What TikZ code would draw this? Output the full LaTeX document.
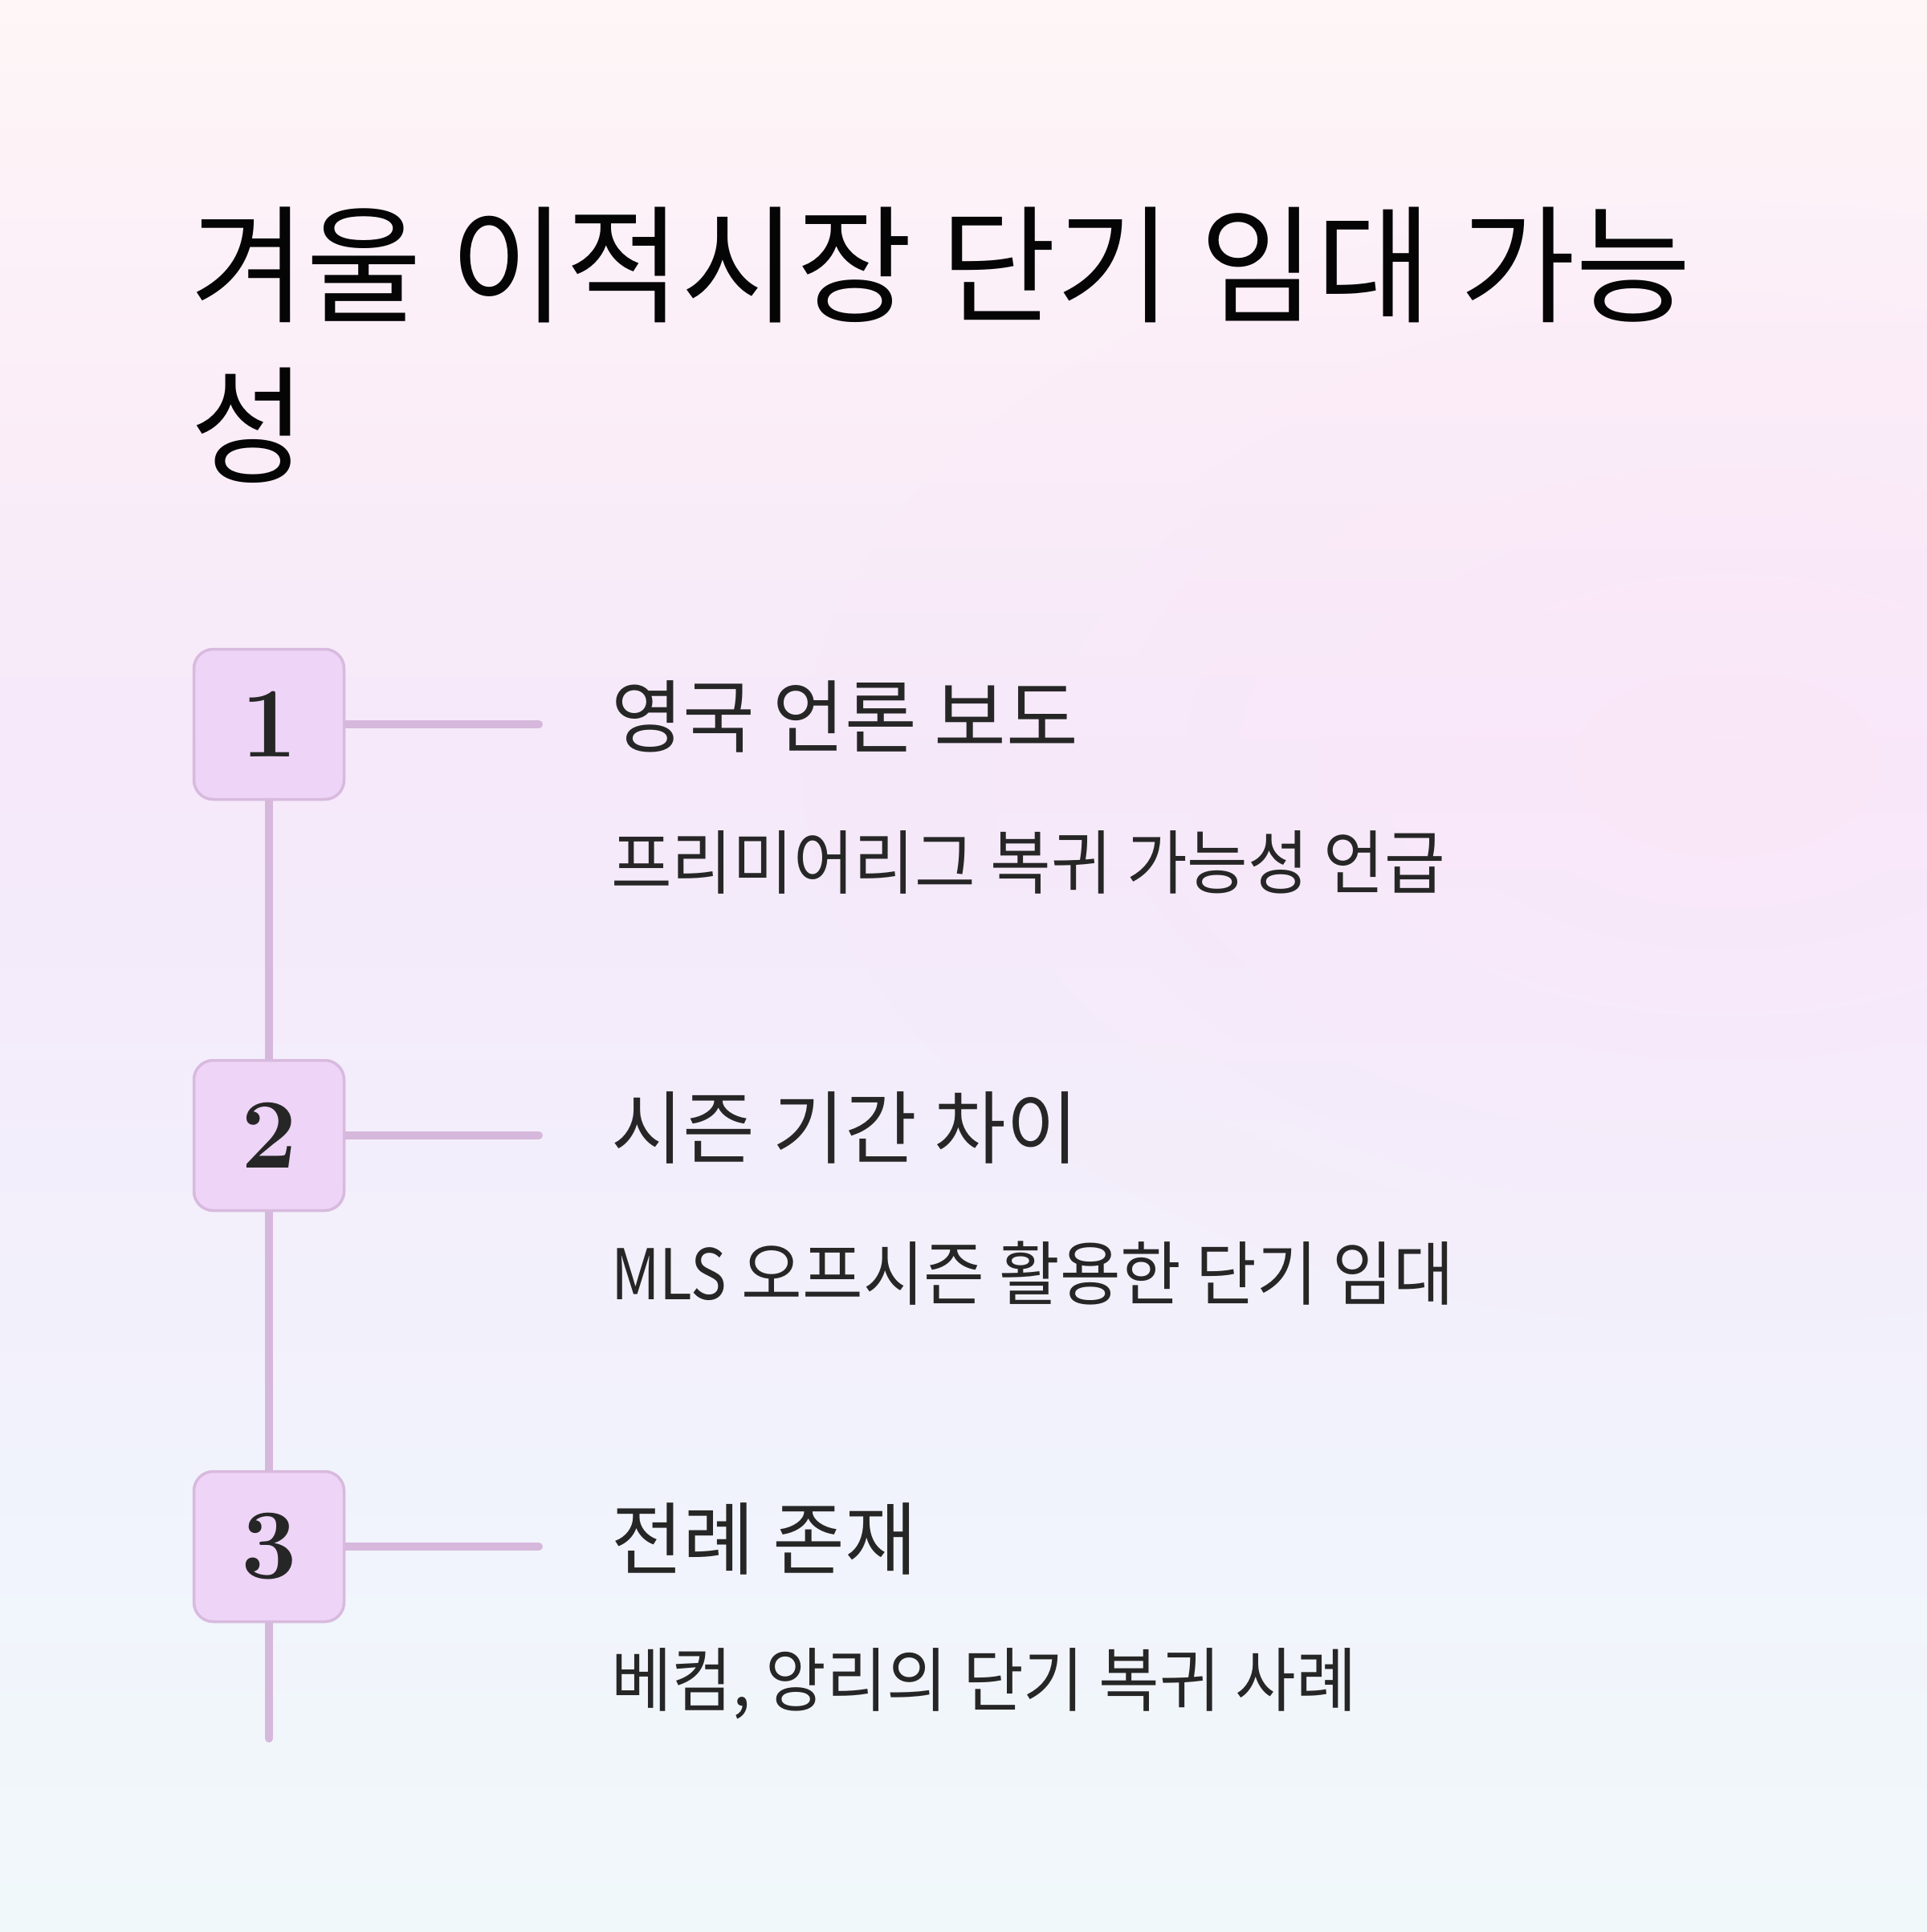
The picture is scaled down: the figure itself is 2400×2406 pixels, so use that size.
\documentclass[tikz,border=0pt]{standalone}
\usepackage{fontspec}
\usetikzlibrary{backgrounds,fadings}
\newfontfamily\krtitle{Noto Sans CJK KR}[RawFeature=+palt, FakeStretch=0.985]
\newfontfamily\krhead{Noto Sans CJK KR}[RawFeature=+palt, FakeStretch=0.985]
\newfontfamily\krsub{Noto Sans CJK KR}[RawFeature=+palt, FakeStretch=0.945]
\newfontfamily\krlat{Noto Sans CJK KR}[FakeStretch=0.86]
\definecolor{bg0}{HTML}{FEF6F7}
\definecolor{bg1}{HTML}{FBEEF8}
\definecolor{bg2}{HTML}{F5E9FA}
\definecolor{bg3}{HTML}{F3EEFB}
\definecolor{bg4}{HTML}{F1F4FC}
\definecolor{bg5}{HTML}{F1F8FA}
\definecolor{glow}{HTML}{FDE6F8}
\definecolor{boxfill}{HTML}{EED4F7}
\definecolor{boxline}{HTML}{D8BADE}
\definecolor{connc}{HTML}{D6B8DC}
\definecolor{textc}{HTML}{262626}
\definecolor{titlec}{HTML}{050505}
\pgfdeclareverticalshading{bgshade}{100bp}{color(0bp)=(bg5); color(25bp)=(bg5); color(35bp)=(bg4); color(45bp)=(bg3); color(55bp)=(bg2); color(65bp)=(bg1); color(75bp)=(bg0); color(100bp)=(bg0)}
\tikzfading[name=glowfade, inner color=transparent!0, outer color=transparent!100]
\pgfdeclarelayer{bglayer}
\pgfsetlayers{bglayer,background,main}
\tikzset{
  stepbox/.style={draw=boxline, line width=3.5pt, fill=boxfill, rounded corners=24pt,
    minimum size=187pt, inner sep=0pt, text=textc, font=\bfseries\fontsize{124}{124}\selectfont},
  conn/.style={draw=connc, line width=10pt},
  titletext/.style={anchor=west, inner sep=0pt, text=titlec, font=\krtitle\fontsize{159}{190}\selectfont},
  headtext/.style={anchor=west, inner sep=0pt, text=textc, font=\krhead\fontsize{99}{110}\selectfont},
  subtext/.style={anchor=west, inner sep=0pt, text=textc, font=\krsub\fontsize{87}{100}\selectfont}
}
\begin{document}
\begin{tikzpicture}[x=1pt,y=-1pt]
\useasboundingbox (0,0) rectangle (2400,2406);
\begin{pgfonlayer}{bglayer}
\clip (0,0) rectangle (2400,2406);
\fill[shading=bgshade] (0,0) rectangle (2400,2406);
\fill[glow, opacity=0.6, path fading=glowfade] (2150,950) ellipse (1150 and 700);
\end{pgfonlayer}

\node[titletext] (t1) at (237,330) {겨울 이적시장 단기 임대 가능};
\node[titletext] (t2) at (237,530) {성};

\node[stepbox] (b1) at (335,902) {1};
\node[stepbox] (b2) at (335,1414) {2};
\node[stepbox] (b3) at (335,1926) {3};

\coordinate (c1) at (671,902);
\coordinate (c2) at (671,1414);
\coordinate (c3) at (671,1926);
\coordinate (vend) at (335,2165);

\begin{pgfonlayer}{background}
\draw[conn, line cap=round] (b1.east) -- (c1);
\draw[conn, line cap=round] (b2.east) -- (c2);
\draw[conn, line cap=round] (b3.east) -- (c3);
\draw[conn] (b1.south) -- (b2.north);
\draw[conn] (b2.south) -- (b3.north);
\draw[conn, line cap=round] (b3.south) -- (vend);
\end{pgfonlayer}

\node[headtext] (h1) at (761,892) {영국 언론 보도};
\node[subtext] (s1) at (761,1074) {프리미어리그 복귀 가능성 언급};
\node[headtext] (h2) at (761,1404) {시즌 기간 차이};
\node[subtext] (s2) at (761,1586) {{\krlat MLS} 오프시즌 활용한 단기 임대};
\node[headtext] (h3) at (761,1916) {전례 존재};
\node[subtext] (s3) at (761,2097) {베컴, 앙리의 단기 복귀 사례};
\end{tikzpicture}
\end{document}
